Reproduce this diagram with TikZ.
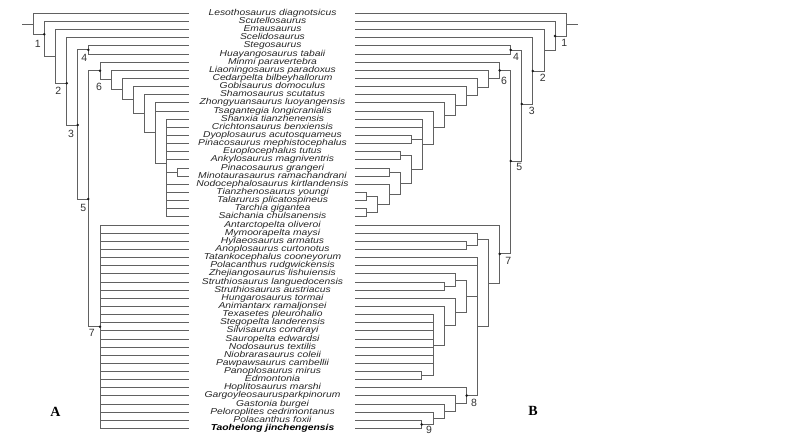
\documentclass[tikz,border=0pt]{standalone}
\usepackage{fontspec}
\setmainfont{Liberation Sans}
\newfontfamily\taxfont{Liberation Sans}[FakeStretch=1.2]
\newfontfamily\letfont{Liberation Serif}
\tikzset{
  br/.style={draw=black!62, line width=0.8pt},
  tax/.style={font=\taxfont\itshape\fontsize{8.6}{8.6}\selectfont, text=black!85, inner sep=0pt, text height=6pt, text depth=1.8pt},
  lab/.style={font=\fontsize{10.5}{10.5}\selectfont, text=black!80, inner sep=0pt},
  dotn/.style={circle, fill=black!90, inner sep=0pt, minimum size=2.8pt},
  panel/.style={font=\letfont\bfseries\fontsize{14}{14}\selectfont, inner sep=0pt}
}
\begin{document}
\begin{tikzpicture}[x=1pt,y=-1pt]
\path[use as bounding box] (0,0) rectangle (800,438);
% taxa
\foreach \i/\t in {1/Lesothosaurus diagnotsicus,2/Scutellosaurus,3/Emausaurus,4/Scelidosaurus,5/Stegosaurus,6/Huayangosaurus tabaii,7/Minmi paravertebra,8/Liaoningosaurus paradoxus,9/Cedarpelta bilbeyhallorum,10/Gobisaurus domoculus,11/Shamosaurus scutatus,12/Zhongyuansaurus luoyangensis,13/Tsagantegia longicranialis,14/Shanxia tianzhenensis,15/Crichtonsaurus benxiensis,16/Dyoplosaurus acutosquameus,17/Pinacosaurus mephistocephalus,18/Euoplocephalus tutus,19/Ankylosaurus magniventris,20/Pinacosaurus grangeri,21/Minotaurasaurus ramachandrani,22/Nodocephalosaurus kirtlandensis,23/Tianzhenosaurus youngi,24/Talarurus plicatospineus,25/Tarchia gigantea,26/Saichania chulsanensis,27/Antarctopelta oliveroi,28/Mymoorapelta maysi,29/Hylaeosaurus armatus,30/Anoplosaurus curtonotus,31/Tatankocephalus cooneyorum,32/Polacanthus rudgwickensis,33/Zhejiangosaurus lishuiensis,34/Struthiosaurus languedocensis,35/Struthiosaurus austriacus,36/Hungarosaurus tormai,37/Animantarx ramaljonsei,38/Texasetes pleurohalio,39/Stegopelta landerensis,40/Silvisaurus condrayi,41/Sauropelta edwardsi,42/Nodosaurus textilis,43/Niobrarasaurus coleii,44/Pawpawsaurus cambellii,45/Panoplosaurus mirus,46/Edmontonia,47/Hoplitosaurus marshi,48/Gargoyleosaurusparkpinorum,49/Gastonia burgei,50/Peloroplites cedrimontanus,51/Polacanthus foxii}{
  \pgfmathsetmacro\yy{13.3+(\i-1)*8.14}
  \coordinate (la\i) at (189,\yy);
  \coordinate (lb\i) at (355,\yy);
  \node[tax] (t\i) at (272.5,\yy) {\t};
}
\coordinate (la52) at (189,428.44);
\coordinate (lb52) at (355,428.44);
\node[tax,font=\taxfont\itshape\bfseries\fontsize{8.6}{8.6}\selectfont, text=black] (t52) at (272.5,428.44) {Taohelong jinchengensis};

% ---------- Tree A ----------
\coordinate (aS) at (22,24);
\coordinate (aR) at (33,24);
\coordinate (aN1) at (44.3,34.3);
\coordinate (aNE) at (55.7,56.7);
\coordinate (aN2) at (66.7,83.3);
\coordinate (aN3) at (77.7,125);
\coordinate (aN4) at (88.3,49.9);
\coordinate (aN5) at (88.3,199);
\coordinate (aN6) at (100,70.7);
\coordinate (aA2) at (111,79.5);
\coordinate (aA3) at (122.3,89.3);
\coordinate (aA4) at (133.3,99.5);
\coordinate (aA5) at (144.3,113.3);
\coordinate (aA6) at (155.7,132.5);
\coordinate (aA7) at (166.7,163.5);
\coordinate (aPM) at (177.7,172);
\coordinate (aN7) at (100,326.7);

\draw[br] (aS) -- (aR);
\draw[br] (aR) |- (la1) (aR) |- (aN1);
\draw[br] (aN1) |- (la2) (aN1) |- (aNE);
\draw[br] (aNE) |- (la3) (aNE) |- (aN2);
\draw[br] (aN2) |- (la4) (aN2) |- (aN3);
\draw[br] (aN3) |- (aN4) (aN3) |- (aN5);
\draw[br] (aN4) |- (la5) (aN4) |- (la6);
\draw[br] (aN5) |- (aN6) (aN5) |- (aN7);
\draw[br] (aN6) |- (la7) (aN6) |- (aA2);
\draw[br] (aA2) |- (la8) (aA2) |- (aA3);
\draw[br] (aA3) |- (la9) (aA3) |- (aA4);
\draw[br] (aA4) |- (la10) (aA4) |- (aA5);
\draw[br] (aA5) |- (la11) (aA5) |- (aA6);
\draw[br] (aA6) |- (la12) (aA6) |- (la13) (aA6) |- (aA7);
\foreach \j in {14,...,19,22,23,24,25,26} \draw[br] (aA7) |- (la\j);
\draw[br] (aA7) |- (aPM);
\draw[br] (aPM) |- (la20) (aPM) |- (la21);
\foreach \j in {27,...,52} \draw[br] (aN7) |- (la\j);

\foreach \n in {N1,N2,N3,N4,N5,N6,N7} \node[dotn] (dA\n) at (a\n) {};
\node[lab] (nA1) at (37.7,44.3) {1};
\node[lab] (nA2) at (58.3,91) {2};
\node[lab] (nA3) at (71,134) {3};
\node[lab] (nA4) at (84.3,57.7) {4};
\node[lab] (nA5) at (83.3,207.7) {5};
\node[lab] (nA6) at (99,86.7) {6};
\node[lab] (nA7) at (91.7,333.3) {7};
\node[panel] (LA) at (55.5,412) {A};

% ---------- Tree B ----------
\coordinate (bS) at (577.7,24.7);
\coordinate (bR) at (566.7,24.7);
\coordinate (bB1) at (555,36.1);
\coordinate (bBE) at (544.3,50.7);
\coordinate (bB2) at (532.7,71);
\coordinate (bB3) at (521.7,104);
\coordinate (bB4) at (510.7,49.93);
\coordinate (bB5) at (510.7,161);
\coordinate (bB6) at (499.7,70.4);
\coordinate (bX2) at (488.7,78.7);
\coordinate (bX3) at (477.7,87.1);
\coordinate (bX4) at (466.7,95.8);
\coordinate (bX5) at (455.7,105);
\coordinate (bZ) at (444.3,115.2);
\coordinate (bW) at (433.3,127.6);
\coordinate (bV) at (422.3,144.3);
\coordinate (bDP) at (411,139.5);
\coordinate (bY) at (411,169.5);
\coordinate (bEA) at (400,155.75);
\coordinate (bQ) at (400,183.2);
\coordinate (bPM) at (389,172);
\coordinate (bRR) at (389,194.4);
\coordinate (bS2) at (377.7,204.6);
\coordinate (bTT) at (366.7,196.45);
\coordinate (bTS) at (366.7,212.7);
\coordinate (bB7) at (499.7,253.9);
\coordinate (bK) at (488.7,282.9);
\coordinate (bBM) at (477.7,239.2);
\coordinate (bHA) at (466.7,245.3);
\coordinate (bL) at (477.7,326.6);
\coordinate (bM) at (466.7,295.9);
\coordinate (bN) at (455.7,279.9);
\coordinate (bSS) at (444.3,286);
\coordinate (bO) at (455.7,311.9);
\coordinate (bP) at (444.3,325.7);
\coordinate (bR2) at (433.3,345);
\coordinate (bPE) at (421.7,375.5);
\coordinate (bB8) at (466.7,395.6);
\coordinate (bG1) at (455.7,403.5);
\coordinate (bG2) at (444.3,411.1);
\coordinate (bG3) at (433.3,418.3);
\coordinate (bB9) at (421.7,424.4);

\draw[br] (bS) -- (bR);
\draw[br] (bR) |- (lb1) (bR) |- (bB1);
\draw[br] (bB1) |- (lb2) (bB1) |- (bBE);
\draw[br] (bBE) |- (lb3) (bBE) |- (bB2);
\draw[br] (bB2) |- (lb4) (bB2) |- (bB3);
\draw[br] (bB3) |- (bB4) (bB3) |- (bB5);
\draw[br] (bB4) |- (lb5) (bB4) |- (lb6);
\draw[br] (bB5) |- (bB6) (bB5) |- (bB7);
\draw[br] (bB6) |- (lb7) (bB6) |- (bX2);
\draw[br] (bX2) |- (lb8) (bX2) |- (bX3);
\draw[br] (bX3) |- (lb9) (bX3) |- (bX4);
\draw[br] (bX4) |- (lb10) (bX4) |- (bX5);
\draw[br] (bX5) |- (lb11) (bX5) |- (bZ);
\draw[br] (bZ) |- (lb12) (bZ) |- (bW);
\draw[br] (bW) |- (lb13) (bW) |- (bV);
\draw[br] (bV) |- (lb14) (bV) |- (lb15) (bV) |- (bDP) (bV) |- (bY);
\draw[br] (bDP) |- (lb16) (bDP) |- (lb17);
\draw[br] (bY) |- (bEA) (bY) |- (bQ);
\draw[br] (bEA) |- (lb18) (bEA) |- (lb19);
\draw[br] (bQ) |- (bPM) (bQ) |- (bRR);
\draw[br] (bPM) |- (lb20) (bPM) |- (lb21);
\draw[br] (bRR) |- (lb22) (bRR) |- (bS2);
\draw[br] (bS2) |- (bTT) (bS2) |- (bTS);
\draw[br] (bTT) |- (lb23) (bTT) |- (lb24);
\draw[br] (bTS) |- (lb25) (bTS) |- (lb26);
\draw[br] (bB7) |- (lb27) (bB7) |- (bK);
\draw[br] (bK) |- (bBM) (bK) |- (bL);
\draw[br] (bBM) |- (lb28) (bBM) |- (bHA);
\draw[br] (bHA) |- (lb29) (bHA) |- (lb30);
\draw[br] (bL) |- (lb31) (bL) |- (lb32) (bL) |- (bM) (bL) |- (bB8);
\draw[br] (bM) |- (bN) (bM) |- (bO);
\draw[br] (bN) |- (lb33) (bN) |- (bSS);
\draw[br] (bSS) |- (lb34) (bSS) |- (lb35);
\draw[br] (bO) |- (lb36) (bO) |- (bP);
\draw[br] (bP) |- (lb37) (bP) |- (bR2);
\foreach \j in {38,...,44} \draw[br] (bR2) |- (lb\j);
\draw[br] (bR2) |- (bPE);
\draw[br] (bPE) |- (lb45) (bPE) |- (lb46);
\draw[br] (bB8) |- (lb47) (bB8) |- (bG1);
\draw[br] (bG1) |- (lb48) (bG1) |- (bG2);
\draw[br] (bG2) |- (lb49) (bG2) |- (bG3);
\draw[br] (bG3) |- (lb50) (bG3) |- (bB9);
\draw[br] (bB9) |- (lb51) (bB9) |- (lb52);

\foreach \n in {B1,B2,B3,B4,B5,B6,B7,B8,B9} \node[dotn] (dB\n) at (b\n) {};
\node[lab] (nB1) at (564.3,42.7) {1};
\node[lab] (nB2) at (542.7,78.3) {2};
\node[lab] (nB3) at (531.7,111) {3};
\node[lab] (nB4) at (516,57.3) {4};
\node[lab] (nB5) at (519.3,166.7) {5};
\node[lab] (nB6) at (504,81) {6};
\node[lab] (nB7) at (508.3,261) {7};
\node[lab] (nB8) at (474,403.3) {8};
\node[lab] (nB9) at (429,430) {9};
\node[panel] (LB) at (533,411) {B};
\end{tikzpicture}
\end{document}
